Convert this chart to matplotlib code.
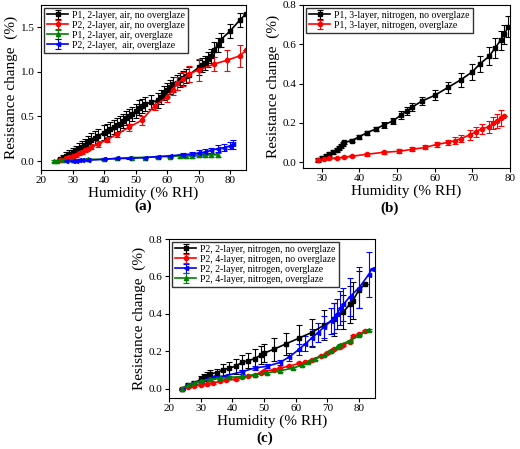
import matplotlib
matplotlib.use("Agg")
import matplotlib.pyplot as plt
import numpy as np

plt.rcParams['font.family'] = ['Liberation Serif', 'DejaVu Serif']

# Panel (a)
a_h1 = [26,27,28,29,30,31,32,33,34,35,36,37,38,40,41,42,43,44,45,46,47,48,49,50,51,52,53,55,57,58,59,60,61,62,63,64,65,66,67,70,71,72,73,74,75,76,77,80,83,85]
a_y1 = [0.02,0.04,0.06,0.08,0.10,0.12,0.14,0.16,0.18,0.21,0.24,0.26,0.28,0.32,0.34,0.36,0.38,0.40,0.42,0.45,0.48,0.50,0.53,0.56,0.60,0.62,0.64,0.66,0.68,0.72,0.76,0.80,0.83,0.86,0.88,0.91,0.93,0.95,0.97,1.05,1.08,1.10,1.14,1.18,1.25,1.30,1.36,1.46,1.58,1.65]
a_e1 = [0.02,0.03,0.04,0.04,0.05,0.05,0.06,0.06,0.07,0.07,0.07,0.08,0.08,0.08,0.08,0.08,0.08,0.08,0.08,0.08,0.08,0.08,0.08,0.08,0.08,0.08,0.08,0.08,0.08,0.08,0.08,0.08,0.08,0.08,0.08,0.08,0.08,0.08,0.08,0.08,0.08,0.08,0.08,0.08,0.08,0.08,0.08,0.08,0.08,0.0]
a_h2 = [26,28,29,30,31,32,33,34,35,36,38,41,44,48,52,56,60,62,63,65,67,70,75,79,83,85]
a_y2 = [0.01,0.03,0.05,0.06,0.07,0.09,0.10,0.12,0.14,0.16,0.19,0.24,0.30,0.38,0.46,0.62,0.72,0.80,0.87,0.92,0.98,1.02,1.09,1.13,1.18,1.24]
a_e2 = [0.01,0.02,0.02,0.02,0.02,0.02,0.02,0.02,0.02,0.03,0.03,0.03,0.03,0.04,0.05,0.05,0.06,0.06,0.07,0.08,0.09,0.12,0.08,0.12,0.12,0.0]
a_h3 = [24,25,27,30,35,40,44,49,53,57,61,64,66,68,70,72,74,76]
a_y3 = [0.0,0.0,0.01,0.01,0.02,0.02,0.03,0.04,0.04,0.05,0.05,0.06,0.06,0.06,0.07,0.07,0.07,0.07]
a_e3 = [0.01,0.01,0.01,0.01,0.01,0.01,0.01,0.01,0.01,0.01,0.01,0.02,0.02,0.02,0.02,0.02,0.02,0.02]
a_h4 = [28,30,31,32,33,35,40,44,48,53,57,61,65,68,70,72,74,76,78,80,81]
a_y4 = [0.0,0.0,0.0,0.01,0.01,0.01,0.02,0.03,0.03,0.04,0.05,0.06,0.07,0.08,0.09,0.10,0.12,0.14,0.15,0.17,0.19]
a_e4 = [0.01,0.01,0.01,0.01,0.01,0.01,0.01,0.01,0.01,0.01,0.01,0.01,0.02,0.02,0.03,0.03,0.03,0.04,0.04,0.04,0.05]
a_labels = ["P1, 2-layer, air, no overglaze","P2, 2-layer, air, no overglaze","P1, 2-layer, air, overglaze","P2, 2-layer,  air, overglaze"]

# Panel (b)
b_h1 = [29,30,31,32,33,34,34.5,35,35.5,36,38,40,42,44.5,46.5,49,51,52.5,54,56.5,60,63.5,67,70,72,74.5,76,77.5,78.5,79.5]
b_y1 = [0.01,0.02,0.03,0.04,0.05,0.06,0.07,0.08,0.09,0.10,0.11,0.13,0.15,0.17,0.19,0.21,0.24,0.26,0.28,0.31,0.34,0.38,0.42,0.46,0.50,0.54,0.58,0.62,0.65,0.69]
b_e1 = [0.01,0.01,0.01,0.01,0.01,0.01,0.01,0.01,0.01,0.01,0.01,0.01,0.01,0.01,0.015,0.015,0.02,0.02,0.02,0.02,0.025,0.03,0.035,0.04,0.04,0.045,0.05,0.05,0.05,0.055]
b_h2 = [29,30.5,32,34,36,38,42,46.5,50.5,54,57.5,60.5,63.5,65.5,67,69.5,71,72.5,74.5,75.5,76.5,77.5,78.5]
b_y2 = [0.01,0.015,0.02,0.02,0.025,0.03,0.04,0.05,0.055,0.065,0.075,0.09,0.10,0.11,0.12,0.14,0.155,0.17,0.18,0.20,0.21,0.225,0.235]
b_e2 = [0.005,0.005,0.005,0.005,0.005,0.005,0.008,0.008,0.01,0.01,0.01,0.012,0.015,0.018,0.02,0.025,0.025,0.025,0.03,0.03,0.035,0.04,0.0]
b_labels = ["P1, 3-layer, nitrogen, no overglaze","P1, 3-layer, nitrogen, overglaze"]

# Panel (c)
c_h1 = [24,26,28,30,31,32,33,35,37,39,41,43,45,47,49,50,53,57,61,65,69,72,75,77,78,80,82]
c_y1 = [0.0,0.02,0.03,0.05,0.06,0.07,0.08,0.085,0.10,0.11,0.12,0.14,0.15,0.16,0.18,0.19,0.21,0.24,0.27,0.30,0.34,0.37,0.41,0.45,0.47,0.53,0.56]
c_e1 = [0.0,0.01,0.01,0.02,0.02,0.02,0.02,0.02,0.03,0.03,0.04,0.04,0.04,0.05,0.05,0.05,0.06,0.06,0.07,0.07,0.08,0.09,0.09,0.1,0.1,0.1,0.0]
c_h2 = [24,26,28,30,32,34,36,38,41,43,45,47,49,50,53,55,58,61,63,65,68,70,71,72,74,75,77,78,80,82]
c_y2 = [0.0,0.01,0.015,0.02,0.025,0.03,0.04,0.045,0.05,0.06,0.065,0.075,0.085,0.095,0.10,0.11,0.12,0.135,0.14,0.155,0.175,0.19,0.20,0.21,0.22,0.235,0.25,0.28,0.29,0.31]
c_e2 = [0.005]*30
c_h3 = [24,26,28,30,32,34,38,43,47,51,55,58,61,63,65,67,69,71,72,73,74,75,77,80,83,84]
c_y3 = [0.0,0.02,0.03,0.04,0.05,0.06,0.07,0.09,0.11,0.12,0.14,0.17,0.21,0.24,0.27,0.30,0.33,0.36,0.38,0.40,0.43,0.45,0.49,0.54,0.61,0.64]
c_e3 = [0.005,0.005,0.005,0.005,0.005,0.005,0.005,0.01,0.01,0.01,0.015,0.02,0.03,0.04,0.05,0.05,0.06,0.07,0.08,0.08,0.09,0.09,0.1,0.11,0.12,0.0]
c_h4 = [24,26,28,30,33,36,39,43,47,51,55,59,62,64,66,69,71,73,74,77,80,83]
c_y4 = [0.0,0.02,0.03,0.04,0.05,0.055,0.06,0.065,0.075,0.085,0.095,0.11,0.125,0.14,0.16,0.18,0.20,0.22,0.235,0.255,0.285,0.315]
c_e4 = [0.005]*22
c_labels = ["P2, 2-layer, nitrogen, no overglaze","P2, 4-layer, nitrogen, no overglaze","P2, 2-layer, nitrogen, overglaze","P2, 4-layer, nitrogen, overglaze"]

W, H = 520, 449
fig = plt.figure(figsize=(W/100, H/100), dpi=100)

def ax_px(x0, y0, x1, y1):
    return fig.add_axes([x0/W, 1-y1/H, (x1-x0)/W, (y1-y0)/H])

def series(ax, h, y, e, c, m, lab, ms=3):
    ax.errorbar(h, y, yerr=e, color=c, marker=m, ms=ms, lw=1.2, elinewidth=0.8, capsize=2, capthick=0.8, label=lab)

def style(ax, xlim, ylim, xt, yt, fmt):
    ax.set_xlim(*xlim); ax.set_ylim(*ylim)
    ax.set_xticks(xt); ax.set_yticks(yt)
    ax.set_yticklabels([fmt % v for v in yt])
    ax.tick_params(labelsize=8, direction='out', length=3, pad=1.5)
    ax.set_xlabel("Humidity (% RH)", fontsize=11, labelpad=1)
    ax.set_ylabel("Resistance change  (%)", fontsize=11, labelpad=2)
    ax.legend(loc='upper left', fontsize=7, frameon=True, fancybox=False, edgecolor='black',
              handlelength=2.2, borderpad=0.3, labelspacing=0.1, handletextpad=0.4, borderaxespad=0.3)

a = ax_px(41, 5, 246, 170)
series(a, a_h1, a_y1, a_e1, 'black', 's', a_labels[0])
series(a, a_h2, a_y2, a_e2, 'red', 'o', a_labels[1])
series(a, a_h3, a_y3, a_e3, 'green', '^', a_labels[2])
series(a, a_h4, a_y4, a_e4, 'blue', '<', a_labels[3])
style(a, (20, 85), (-0.1, 1.75), [20,30,40,50,60,70,80], [0.0,0.5,1.0,1.5], '%.1f')
fig.text(143/W, 1-206/H, "(a)", ha='center', va='center', fontsize=11, fontweight='bold')

b = ax_px(303, 5, 510, 168)
series(b, b_h1, b_y1, b_e1, 'black', 's', b_labels[0])
series(b, b_h2, b_y2, b_e2, 'red', 'o', b_labels[1])
style(b, (25, 80), (-0.03, 0.8), [30,40,50,60,70,80], [0.0,0.2,0.4,0.6,0.8], '%.1f')
fig.text(390/W, 1-208/H, "(b)", ha='center', va='center', fontsize=11, fontweight='bold')

c = ax_px(169, 239, 375, 398)
series(c, c_h1, c_y1, c_e1, 'black', 's', c_labels[0])
series(c, c_h2, c_y2, c_e2, 'red', 'o', c_labels[1])
series(c, c_h3, c_y3, c_e3, 'blue', '<', c_labels[2])
series(c, c_h4, c_y4, c_e4, 'green', '^', c_labels[3])
style(c, (20, 85), (-0.05, 0.8), [20,30,40,50,60,70,80], [0.0,0.2,0.4,0.6,0.8], '%.1f')
fig.text(265/W, 1-438/H, "(c)", ha='center', va='center', fontsize=11, fontweight='bold')

fig.savefig("out.png", dpi=100)
